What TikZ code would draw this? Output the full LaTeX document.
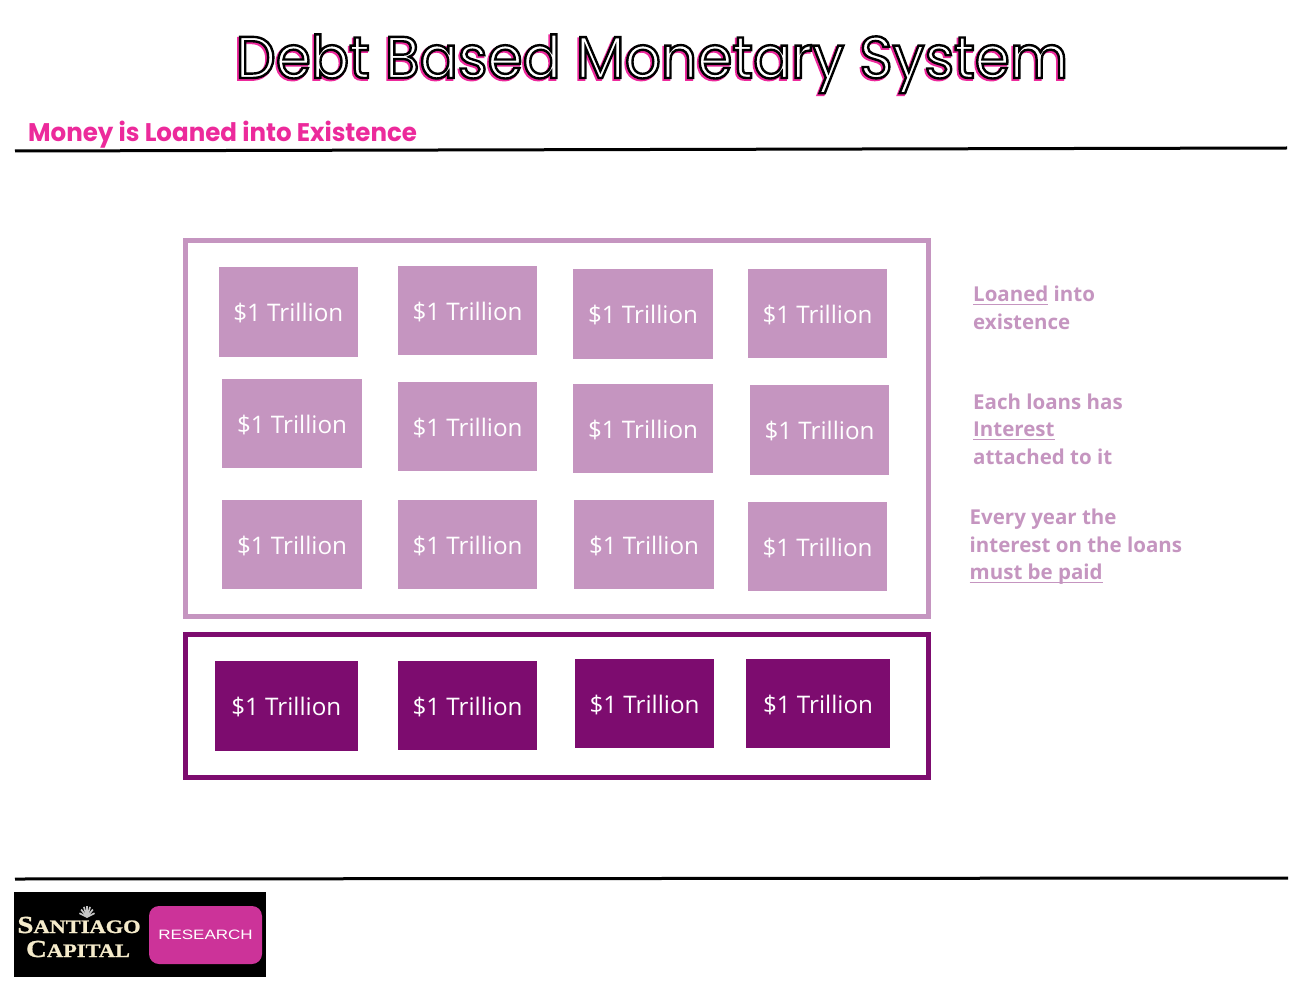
\documentclass[tikz,border=0pt]{standalone}
\usepackage{fontspec}
\setmainfont{Open Sans}
\newfontfamily\titlefont{Poppins}[FakeStretch=0.96]
\newfontfamily\subfont{Poppins}[UprightFont=* Bold,FakeStretch=0.962]
\newfontfamily\sidefont{Open Sans}[UprightFont=* Bold,BoldFont=* Bold]
\newfontfamily\logofont{Liberation Serif}[UprightFont=* Bold,FakeStretch=1.18,FakeBold=1.2]
\newfontfamily\resfont{Liberation Sans}[FakeStretch=1.25]
\definecolor{lilac}{HTML}{C595C0}
\definecolor{plum}{HTML}{7D0C6F}
\definecolor{hotpink}{HTML}{EC2A9B}
\definecolor{respink}{HTML}{CC3399}
\definecolor{cream}{HTML}{F5EBCB}
\newcommand{\ulin}[1]{\setbox0=\hbox{#1}\rlap{\rule[-3pt]{\wd0}{1.2pt}}\box0 }
\newcommand{\outlined}[3]{\special{pdf:code q #1 RG #2 rg 2 Tr #3 w}}
\newcommand{\outend}{\special{pdf:code 0 Tr Q}}
\newcommand{\bx}[7]{%
  \pgfmathsetmacro{\cx}{(#3+#5)/2}\pgfmathsetmacro{\cy}{(#4+#6)/2}%
  \pgfmathsetmacro{\ww}{#5-#3}\pgfmathsetmacro{\hh}{#6-#4}%
  \node[#2,minimum width=\ww pt,minimum height=\hh pt] (#1) at (\cx,\cy) {\raisebox{-1.5pt}[\height][\depth]{#7}};}
\tikzset{
  loanbox/.style={inner sep=0pt,text=white,font=\fontsize{24.2}{28}\selectfont},
  lightbox/.style={loanbox,fill=lilac},
  darkbox/.style={loanbox,fill=plum},
  frame/.style={draw,line width=5pt,fill=none},
  rulebar/.style={draw=black,line width=3pt},
  sidenote/.style={anchor=north west,inner sep=0pt,text=lilac,align=left,font=\sidefont\fontsize{20.5}{27.5}\selectfont},
}
\begin{document}
\begin{tikzpicture}[x=1pt,y=-1pt]
\useasboundingbox (0,0) rectangle (1314,984);
\fill[white] (0,0) rectangle (1314,984);
% title
\node[inner sep=0pt,anchor=base] (title) at (652,78) {\titlefont\fontsize{59}{70}\selectfont
  \rlap{\kern-1.5pt\raisebox{-1.5pt}{\outlined{0.93 0.16 0.61}{0.93 0.16 0.61}{2.8}Debt Based Monetary System\outend}}%
  \outlined{0 0 0}{1 1 1}{2.4}Debt Based Monetary System\outend};
\node[inner sep=0pt,anchor=base west,text=hotpink] (sub) at (28,142) {\subfont\fontsize{25.5}{30}\selectfont Money is Loaned into Existence};
\coordinate (tl) at (15,151); \coordinate (tr) at (1287,148);
\coordinate (bl) at (15,879); \coordinate (br) at (1288,878);
\draw[rulebar] (tl) -- (tr);
\draw[rulebar] (bl) -- (br);
% frames
\draw[frame,draw=lilac] (185.5,240.5) rectangle (928.5,616);
\draw[frame,draw=plum] (185.5,634.5) rectangle (928.5,777);
% light boxes
\bx{a1}{lightbox}{218.5}{267}{358}{357}{\$1 Trillion}
\bx{a2}{lightbox}{398}{266}{537}{355}{\$1 Trillion}
\bx{a3}{lightbox}{573}{269}{713}{359}{\$1 Trillion}
\bx{a4}{lightbox}{748}{269}{887}{358}{\$1 Trillion}
\bx{b1}{lightbox}{222}{379}{362}{468}{\$1 Trillion}
\bx{b2}{lightbox}{398}{382}{537}{471}{\$1 Trillion}
\bx{b3}{lightbox}{573}{384}{713}{473}{\$1 Trillion}
\bx{b4}{lightbox}{750}{385}{889}{475}{\$1 Trillion}
\bx{c1}{lightbox}{222}{500}{362}{589}{\$1 Trillion}
\bx{c2}{lightbox}{398}{500}{537}{589}{\$1 Trillion}
\bx{c3}{lightbox}{574}{500}{714}{589}{\$1 Trillion}
\bx{c4}{lightbox}{748}{502}{887}{591}{\$1 Trillion}
% dark boxes
\bx{d1}{darkbox}{214.5}{661}{358}{751}{\$1 Trillion}
\bx{d2}{darkbox}{398}{661}{537}{750}{\$1 Trillion}
\bx{d3}{darkbox}{575}{659}{714}{748}{\$1 Trillion}
\bx{d4}{darkbox}{746}{659}{890}{748}{\$1 Trillion}
% side notes
\node[sidenote] (n1) at (973,286) {\ulin{Loaned} into\\existence};
\node[sidenote] (n2) at (973,393.5) {Each loans has\\\ulin{Interest}\\attached to it};
\node[sidenote] (n3) at (969.5,509) {Every year the\\interest on the loans\\\ulin{must be paid}};
% logo
\fill[black] (14,892) rectangle (266,977);
\fill[respink,rounded corners=10pt] (149,906) rectangle (262,964);
\node[inner sep=0pt,text=white] (research) at (205.5,935) {\resfont\fontsize{13.6}{18}\selectfont RESEARCH};
\node[inner sep=0pt,anchor=base,text=cream] (santiago) at (79,933) {\logofont\fontsize{24.5}{28}\selectfont S\fontsize{19}{28}\selectfont ANTIAGO};
\node[inner sep=0pt,anchor=base,text=cream] (capital) at (78,957) {\logofont\fontsize{24.5}{28}\selectfont C\fontsize{19}{28}\selectfont APITAL};
% shell
\foreach \a in {-70,-47,-23,0,23,47,70}
  \draw[line width=1.7pt,draw=gray!45!white] (87,917) -- +({sin(\a)*8},{-cos(\a)*11});
\end{tikzpicture}
\end{document}
